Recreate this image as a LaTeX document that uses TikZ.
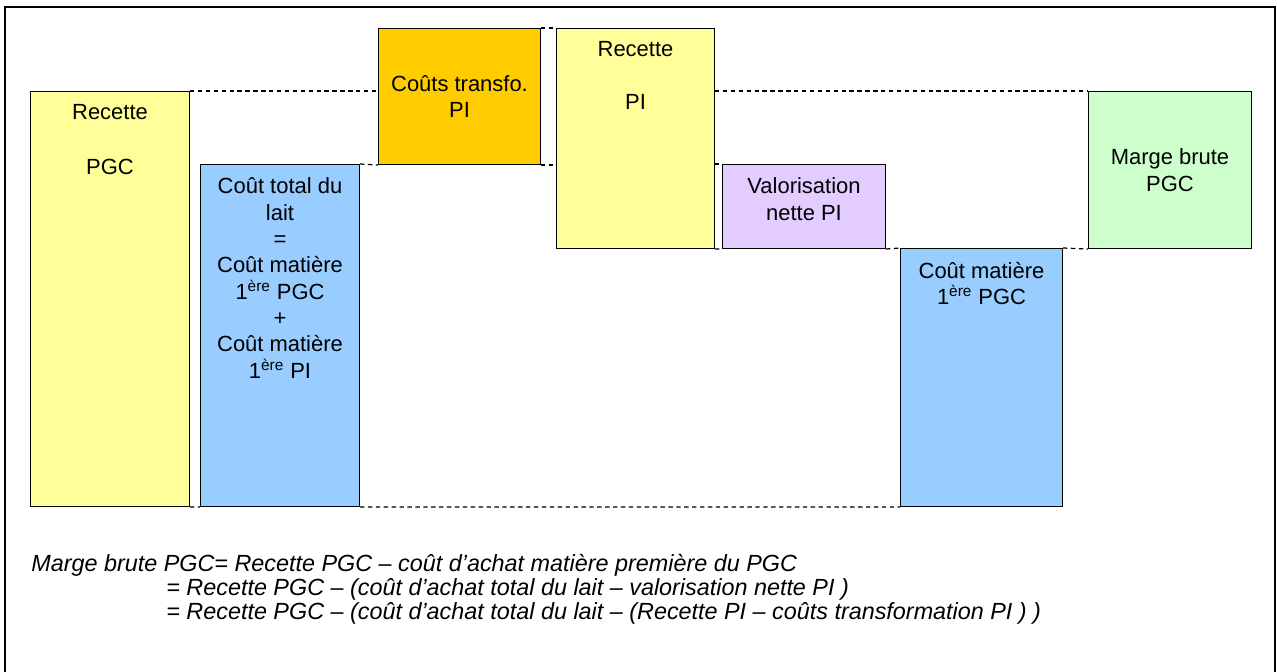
\documentclass[tikz,border=0pt]{standalone}
\usepackage{fontspec}
\setmainfont{Liberation Sans}
\usetikzlibrary{positioning}
\definecolor{jaune}{HTML}{FFFF99}
\definecolor{bleu}{HTML}{99CCFF}
\definecolor{orange}{HTML}{FFCC00}
\definecolor{lavande}{HTML}{E3CCFF}
\definecolor{vert}{HTML}{CCFFCC}

\begin{document}
\begin{tikzpicture}[x=0.02cm,y=-0.02cm,
    box/.style={draw=black,line width=0.6pt,anchor=north west,inner sep=0pt},
    guide/.style={dash pattern=on 2.5pt off 2pt,line width=0.7pt},
    lbl/.style={align=center,inner sep=0pt,font=\fontsize{12.5}{15}\selectfont},
    haut/.style={lbl,anchor=north,yshift=-0.27cm},
    formule/.style={anchor=base west,inner sep=0pt,font=\fontsize{13.3}{15}\selectfont\itshape}]
    \useasboundingbox (0,0) rectangle (1277,672);

    % Frame
    \draw[line width=1.2pt] (5,690) -- (5,7) -- (1275,7) -- (1275,690);

    % Blocks
    \node[box,fill=jaune,minimum width=3.18cm,minimum height=8.30cm] (rpgc) at (30,91) {};
    \node[box,fill=bleu,minimum width=3.18cm,minimum height=6.84cm] (clait) at (200,164) {};
    \node[box,fill=orange,minimum width=3.24cm,minimum height=2.72cm] (ctpi) at (378,28) {};
    \node[box,fill=jaune,minimum width=3.16cm,minimum height=4.40cm] (rpi) at (556,28) {};
    \node[box,fill=lavande,minimum width=3.26cm,minimum height=1.68cm] (vnpi) at (722,164) {};
    \node[box,fill=bleu,minimum width=3.24cm,minimum height=5.16cm] (cmpgc) at (900,248) {};
    \node[box,fill=vert,minimum width=3.26cm,minimum height=3.14cm] (mbpgc) at (1088,91) {};

    % Block labels
    \node[haut] (trpgc) at (rpgc.north) {Recette\\[16pt]PGC};
    \node[haut] (tclait) at (clait.north)
        {Coût total du\\lait\\=\\Coût matière\\1\textsuperscript{ère} PGC\\+\\Coût matière\\1\textsuperscript{ère} PI};
    \node[lbl] (tctpi) at (ctpi.center) {Coûts transfo.\\PI};
    \node[haut] (trpi) at (rpi.north) {Recette\\[15pt]PI};
    \node[haut] (tvnpi) at (vnpi.north) {Valorisation\\nette PI};
    \node[haut] (tcmpgc) at (cmpgc.north) {Coût matière\\1\textsuperscript{ère} PGC};
    \node[lbl] (tmbpgc) at (mbpgc.center) {Marge brute\\PGC};

    % Dashed levels
    \draw[guide] (rpgc.north east) -- (rpgc.north east -| ctpi.west);
    \draw[guide] (rpgc.north east -| rpi.east) -- (mbpgc.north west);
    \draw[guide] (ctpi.north east) -- (rpi.north west);
    \draw[guide] (clait.north east) -- (ctpi.south west);
    \draw[guide] (ctpi.south east) -- (ctpi.south east -| rpi.west);
    \draw[guide] (vnpi.north west -| rpi.east) -- (vnpi.north west);
    \draw[guide] (rpi.south east) -- (vnpi.south west);
    \draw[guide] (vnpi.south east) -- (cmpgc.north west);
    \draw[guide] (cmpgc.north east) -- (mbpgc.south west);
    \draw[guide] (rpgc.south east) -- (clait.south west);
    \draw[guide] (clait.south east) -- (cmpgc.south west);

    % Formula
    \node[formule] (f1) at (31,571) {Marge brute PGC= Recette PGC – coût d’achat matière première du PGC};
    \node[formule] (f2) at (166,595) {= Recette PGC – (coût d’achat total du lait – valorisation nette PI )};
    \node[formule] (f3) at (166,619) {= Recette PGC – (coût d’achat total du lait – (Recette PI – coûts transformation PI ) )};
\end{tikzpicture}
\end{document}
